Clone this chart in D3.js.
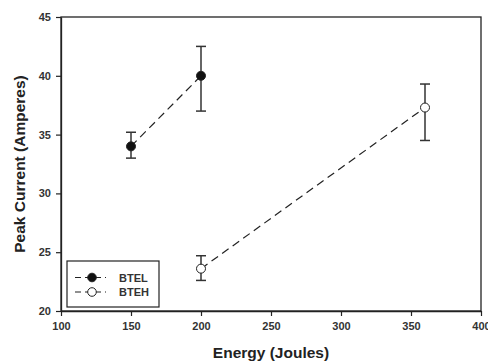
<!DOCTYPE html>
<html><head><meta charset="utf-8">
<script src="https://cdn.jsdelivr.net/npm/d3@7"></script>
<style>body{margin:0;background:#fff}svg{display:block}</style>
</head><body>
<script>
const seriesNames = ["BTEL", "BTEH"];
const btelX = [150, 200];
const btelY = [34.0, 40.0];
const btelLo = [33.0, 37.0];
const btelHi = [35.2, 42.5];
const btehX = [200, 360];
const btehY = [23.6, 37.3];
const btehLo = [22.6, 34.5];
const btehHi = [24.7, 39.3];
const xTicks = [100, 150, 200, 250, 300, 350, 400];
const yTicks = [20, 25, 30, 35, 40, 45];

const W = 488, H = 364;
const m = {l: 61, r: 7, t: 17, b: 53};
const svg = d3.select("body").append("svg").attr("width", W).attr("height", H);
const x = d3.scaleLinear().domain([100, 400]).range([m.l, W - m.r]);
const y = d3.scaleLinear().domain([20, 45]).range([H - m.b, m.t]);
const ink = "#222";
const font = "Liberation Sans, Arial, sans-serif";

// frame
svg.append("rect").attr("x", x(100)).attr("y", y(45)).attr("width", x(400) - x(100)).attr("height", y(20) - y(45))
  .attr("fill", "none").attr("stroke", ink).attr("stroke-width", 1.3);

const xa = svg.append("g").attr("transform", `translate(0,${y(20)})`)
  .call(d3.axisBottom(x).tickValues(xTicks).tickSize(5).tickSizeOuter(0).tickPadding(6));
const ya = svg.append("g").attr("transform", `translate(${x(100)},0)`)
  .call(d3.axisLeft(y).tickValues(yTicks).tickSize(5).tickSizeOuter(0).tickPadding(5));
[xa, ya].forEach(a => {
  a.select(".domain").attr("stroke", ink).attr("stroke-width", 1.3);
  a.selectAll(".tick line").attr("stroke", ink).attr("stroke-width", 1.2);
  a.selectAll("text").attr("font-family", font)
    .attr("font-size", 11).attr("font-weight", "bold").attr("fill", "#333");
});

svg.append("text").attr("x", (x(100) + x(400)) / 2).attr("y", 358).attr("text-anchor", "middle")
  .attr("font-family", font).attr("font-size", 15.5).attr("font-weight", "bold")
  .attr("fill", "#222").text("Energy (Joules)");
svg.append("text").attr("transform", `translate(25,${(y(20) + y(45)) / 2}) rotate(-90)`).attr("text-anchor", "middle")
  .attr("font-family", font).attr("font-size", 15.5).attr("font-weight", "bold")
  .attr("fill", "#222").text("Peak Current (Amperes)");

const series = [
  {name: seriesNames[0], xs: btelX, ys: btelY, lo: btelLo, hi: btelHi, fill: "#111"},
  {name: seriesNames[1], xs: btehX, ys: btehY, lo: btehLo, hi: btehHi, fill: "#fff"}
];
const line = d3.line().x(d => x(d[0])).y(d => y(d[1]));
series.forEach(s => {
  const pts = s.xs.map((v, i) => [v, s.ys[i], s.lo[i], s.hi[i]]);
  svg.append("path").attr("d", line(pts)).attr("fill", "none").attr("stroke", ink)
    .attr("stroke-width", 1.2).attr("stroke-dasharray", "8,5");
  const g = svg.append("g");
  pts.forEach(p => {
    g.append("line").attr("x1", x(p[0])).attr("x2", x(p[0])).attr("y1", y(p[2])).attr("y2", y(p[3]))
      .attr("stroke", "#333").attr("stroke-width", 1.5);
    [p[2], p[3]].forEach(v => g.append("line").attr("x1", x(p[0]) - 5).attr("x2", x(p[0]) + 5)
      .attr("y1", y(v)).attr("y2", y(v)).attr("stroke", "#333").attr("stroke-width", 1.5));
    g.append("circle").attr("cx", x(p[0])).attr("cy", y(p[1])).attr("r", 4.5)
      .attr("fill", s.fill).attr("stroke", ink).attr("stroke-width", 1);
  });
});

// legend
const lg = svg.append("g");
lg.append("rect").attr("x", 67).attr("y", 261).attr("width", 92).attr("height", 46)
  .attr("fill", "#fff").attr("stroke", ink).attr("stroke-width", 1.2);
series.forEach((s, i) => {
  const cy = 277.5 + i * 14.5;
  lg.append("line").attr("x1", 75).attr("x2", 106).attr("y1", cy).attr("y2", cy)
    .attr("stroke", ink).attr("stroke-width", 1.2).attr("stroke-dasharray", "6,4");
  lg.append("circle").attr("cx", 92).attr("cy", cy).attr("r", 4.3).attr("fill", s.fill)
    .attr("stroke", ink).attr("stroke-width", 1);
  lg.append("text").attr("x", 119).attr("y", cy + 4).attr("font-family", font)
    .attr("font-size", 11).attr("font-weight", "bold").attr("fill", "#333").text(s.name);
});
</script>
</body></html>
